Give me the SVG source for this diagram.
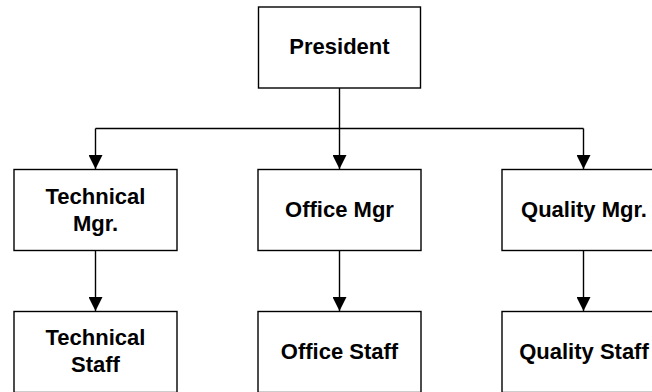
<svg xmlns="http://www.w3.org/2000/svg" width="652" height="392" viewBox="0 0 652 392">
<style>
.box{fill:#fff;stroke:#000;stroke-width:1.4}
.lbl{font-family:"Liberation Sans",Arial,sans-serif;font-weight:bold;font-size:22px;fill:#000;text-anchor:middle}
.con{fill:none;stroke:#000;stroke-width:1.4}
</style>
<defs>
<marker id="arr" markerUnits="userSpaceOnUse" markerWidth="14" markerHeight="14" refX="14" refY="7" orient="auto" viewBox="0 0 14 14">
<path d="M0,0 L14,7 L0,14 Z" fill="#000"/>
</marker>
</defs>
<g id="connectors">
<path class="con" d="M339.5,88 V128.5"/>
<path class="con" d="M95.5,128.5 H583.5"/>
<path class="con" d="M95.5,128.5 V169" marker-end="url(#arr)"/>
<path class="con" d="M339.5,128.5 V169" marker-end="url(#arr)"/>
<path class="con" d="M583.5,128.5 V169" marker-end="url(#arr)"/>
<path class="con" d="M95.5,250.5 V311" marker-end="url(#arr)"/>
<path class="con" d="M339.5,250.5 V311" marker-end="url(#arr)"/>
<path class="con" d="M583.5,250.5 V311" marker-end="url(#arr)"/>
</g>
<g id="president">
<rect class="box" x="258.5" y="7" width="162" height="81"/>
<text class="lbl" x="339.5" y="54">President</text>
</g>
<g id="technical-mgr">
<rect class="box" x="14" y="169.5" width="163" height="81"/>
<text class="lbl" x="95.5" y="204">Technical</text>
<text class="lbl" x="95.5" y="231">Mgr.</text>
</g>
<g id="office-mgr">
<rect class="box" x="258" y="169.5" width="163" height="81"/>
<text class="lbl" x="339.5" y="217">Office Mgr</text>
</g>
<g id="quality-mgr">
<rect class="box" x="502" y="169.5" width="163" height="81"/>
<text class="lbl" x="584" y="217">Quality Mgr.</text>
</g>
<g id="technical-staff">
<rect class="box" x="14" y="311.5" width="163" height="81"/>
<text class="lbl" x="95.5" y="345">Technical</text>
<text class="lbl" x="95.5" y="372">Staff</text>
</g>
<g id="office-staff">
<rect class="box" x="258" y="311.5" width="163" height="81"/>
<text class="lbl" x="339.5" y="359">Office Staff</text>
</g>
<g id="quality-staff">
<rect class="box" x="502" y="311.5" width="163" height="81"/>
<text class="lbl" x="584" y="359">Quality Staff</text>
</g>
</svg>
